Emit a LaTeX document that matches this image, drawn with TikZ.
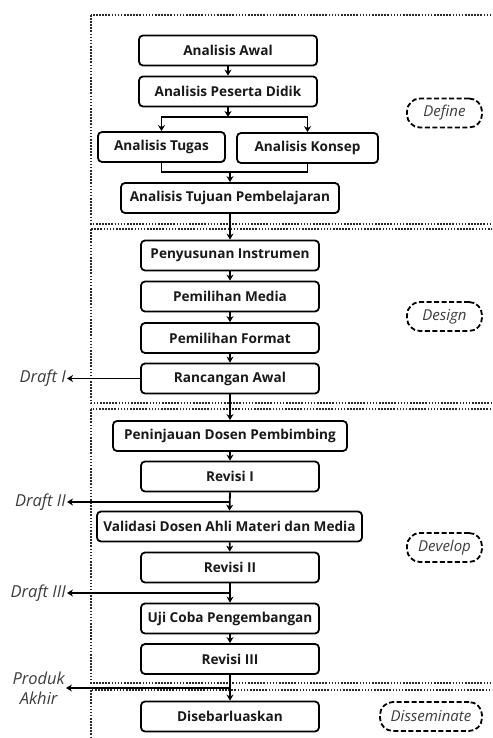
\documentclass[tikz,border=0pt]{standalone}
\usepackage{fontspec}
\setmainfont{Open Sans}
\usetikzlibrary{arrows.meta,positioning,calc}
\definecolor{textgray}{RGB}{25,25,25}
\definecolor{labelgray}{RGB}{60,60,60}
\definecolor{framegray}{RGB}{40,40,40}
\tikzset{
    % Process box style
    stepbox/.style={
        rectangle, draw=black, line width=1.8pt, fill=white,
        minimum width=178pt, minimum height=30pt, inner sep=0pt,
        rounded corners=4pt, text=textgray,
        font=\fontsize{13.6}{15}\selectfont\bfseries
    },
    % Phase label style
    phasebox/.style={
        rectangle, draw=black, line width=1.8pt,
        dash pattern=on 5pt off 2.5pt,
        minimum width=75pt, minimum height=29pt, inner sep=0pt,
        rounded corners=13pt, text=labelgray,
        font=\fontsize{15}{17}\selectfont\itshape
    },
    % Phase frame style
    phaseframe/.style={
        draw=framegray, line width=2pt, dash pattern=on 1.6pt off 1.5pt
    },
    % Draft label style
    draftlabel/.style={
        align=center, text=labelgray, inner sep=1pt,
        font=\fontsize{16.5}{20}\selectfont\itshape
    },
    % Flow arrows
    flowarrow/.style={
        -{Stealth[length=6pt,width=7pt]}, line width=1.8pt
    },
    flowline/.style={line width=1.8pt}
}
\begin{document}
\begin{tikzpicture}[x=1pt,y=-1pt]

\useasboundingbox (0,0) rectangle (492,738);
\clip (0,0) rectangle (492,738);

% Phase frames
\draw[phaseframe] (91,15) rectangle (496,224);
\draw[phaseframe] (91,229) rectangle (496,403);
\draw[phaseframe] (91,409) rectangle (496,683);
\draw[phaseframe] (91,690) rectangle (496,745);

% Phase labels
\node[phasebox] (define) at (444.5,113) {Define};
\node[phasebox] (design) at (444.5,316.5) {Design};
\node[phasebox] (develop) at (444.5,547.5) {Develop};
\node[phasebox, minimum width=102pt] (disseminate) at (431,716.5) {Disseminate};

% Define
\node[stepbox] (awal) at (228,50.5) {Analisis Awal};
\node[stepbox] (peserta) at (228,91.5) {Analisis Peserta Didik};
\node[stepbox, minimum width=127pt] (tugas) at (161.5,147) {Analisis Tugas};
\node[stepbox, minimum width=141pt] (konsep) at (307.5,148) {Analisis Konsep};
\node[stepbox, minimum width=218pt] (tujuan) at (230,198) {Analisis Tujuan Pembelajaran};

% Design
\node[stepbox] (instrumen) at (230,255.5) {Penyusunan Instrumen};
\node[stepbox] (media) at (230,296.5) {Pemilihan Media};
\node[stepbox] (format) at (230,338) {Pemilihan Format};
\node[stepbox] (rancangan) at (230,378.5) {Rancangan Awal};

% Develop
\node[stepbox, minimum width=234pt] (peninjauan) at (230,436) {Peninjauan Dosen Pembimbing};
\node[stepbox] (revisisatu) at (230,476.5) {Revisi I};
\node[stepbox, minimum width=265pt] (validasi) at (229.5,526.5) {Validasi Dosen Ahli Materi dan Media};
\node[stepbox] (revisidua) at (230,567.5) {Revisi II};
\node[stepbox] (ujicoba) at (230,618.5) {Uji Coba Pengembangan};
\node[stepbox] (revisitiga) at (230,659) {Revisi III};

% Disseminate
\node[stepbox] (sebar) at (230,716.5) {Disebarluaskan};

% Draft labels
\node[draftlabel, anchor=east] (draftsatu) at (67,378.5) {Draft I};
\node[draftlabel, anchor=east] (draftdua) at (67,502) {Draft II};
\node[draftlabel, anchor=east] (drafttiga) at (67,593) {Draft III};
\node[draftlabel, anchor=east] (produk) at (66,688) {Produk\\Akhir};

% Branch points
\coordinate (pisah) at (228,117);
\coordinate (gabung) at (230,172);
\coordinate (cabangdua) at (230,502);
\coordinate (cabangtiga) at (230,593);
\coordinate (cabangakhir) at (230,688);

% Define flow
\draw[flowarrow] (awal) -- (peserta);
\draw[flowarrow] (peserta) -- (pisah);
\draw[flowarrow] (pisah) -| (tugas.north);
\draw[flowarrow] (pisah) -| (konsep.north);
\draw[flowline] (tugas.south) |- (gabung) -| (konsep.south);
\draw[flowarrow] (gabung) -- (tujuan.north);

% Design flow
\draw[flowarrow] (tujuan) -- (instrumen);
\draw[flowarrow] (instrumen) -- (media);
\draw[flowarrow] (media) -- (format);
\draw[flowarrow] (format) -- (rancangan);
\draw[flowarrow] (rancangan.west) -- (draftsatu.east);

% Develop flow
\draw[flowarrow] (rancangan) -- (peninjauan);
\draw[flowarrow] (peninjauan) -- (revisisatu);
\draw[flowarrow] (revisisatu.south) -- (validasi.north);
\draw[flowarrow] (cabangdua) -- (draftdua.east);
\draw[flowarrow] (validasi) -- (revisidua);
\draw[flowarrow] (revisidua.south) -- (ujicoba.north);
\draw[flowarrow] (cabangtiga) -- (drafttiga.east);
\draw[flowarrow] (ujicoba) -- (revisitiga);

% Disseminate flow
\draw[flowarrow] (revisitiga.south) -- (sebar.north);
\draw[flowarrow] (cabangakhir) -- (produk.east);

\end{tikzpicture}
\end{document}
